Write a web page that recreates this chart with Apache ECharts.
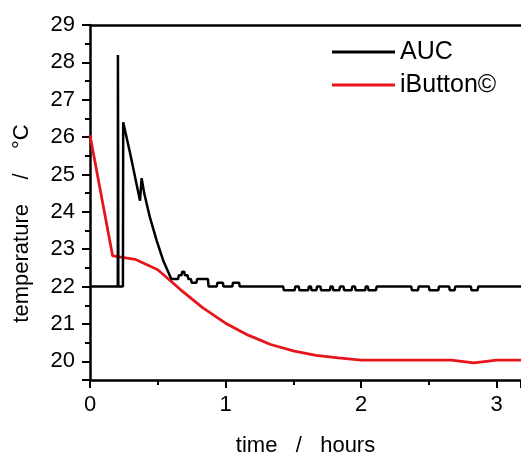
<!DOCTYPE html>
<html>
<head>
<meta charset="utf-8">
<script src="https://cdn.jsdelivr.net/npm/echarts@6/dist/echarts.min.js"></script>
<style>
html,body{margin:0;padding:0;background:#fff;}
#chart{width:521px;height:462px;}
</style>
</head>
<body>
<div id="chart"></div>
<script>
// AUC sensor (black)
const aucTime = [0, 0.205, 0.206, 0.208, 0.209, 0.243, 0.245, 0.253, 0.30, 0.34, 0.369, 0.381, 0.40, 0.442, 0.492, 0.54, 0.60,
  0.65, 0.655, 0.675, 0.68, 0.695, 0.70, 0.72, 0.725, 0.745, 0.75, 0.785, 0.79, 0.87, 0.875, 0.935, 0.94, 0.98, 0.985, 1.05, 1.055, 1.10, 1.105,
  1.426, 1.43, 1.51, 1.515, 1.54, 1.545, 1.61, 1.615, 1.63, 1.635, 1.67, 1.675, 1.70, 1.705, 1.77, 1.775, 1.79, 1.795, 1.84, 1.845, 1.87, 1.875, 1.93, 1.935, 1.955, 1.96, 2.03, 2.035, 2.05, 2.055, 2.11, 2.115,
  2.37, 2.375, 2.42, 2.425, 2.50, 2.505, 2.57, 2.575, 2.65, 2.655, 2.69, 2.695, 2.81, 2.815, 2.86, 2.865, 3.2];
const aucTemp = [22, 22, 28.2, 25.1, 22, 22, 26.4, 26.35, 25.5, 24.8, 24.3, 24.9, 24.5, 23.85, 23.23, 22.7, 22.2,
  22.2, 22.3, 22.3, 22.4, 22.4, 22.3, 22.3, 22.2, 22.2, 22.1, 22.1, 22.2, 22.2, 22.0, 22.0, 22.1, 22.1, 22.0, 22.0, 22.1, 22.1, 22.0,
  22.0, 21.9, 21.9, 22.0, 22.0, 21.9, 21.9, 22.0, 22.0, 21.9, 21.9, 22.0, 22.0, 21.9, 21.9, 22.0, 22.0, 21.9, 21.9, 22.0, 22.0, 21.9, 21.9, 22.0, 22.0, 21.9, 21.9, 22.0, 22.0, 21.9, 21.9, 22.0,
  22.0, 21.9, 21.9, 22.0, 22.0, 21.9, 21.9, 22.0, 22.0, 21.9, 21.9, 22.0, 22.0, 21.9, 21.9, 22.0, 22.0];
// iButton logger (red), 10-minute samples
const ibTime = [0, 0.167, 0.333, 0.5, 0.667, 0.833, 1.0, 1.167, 1.333, 1.5, 1.667, 1.833, 2.0, 2.167, 2.333, 2.5, 2.667, 2.833, 3.0, 3.167, 3.333];
const ibTemp = [26.05, 22.82, 22.73, 22.45, 21.92, 21.43, 21.02, 20.7, 20.45, 20.28, 20.16, 20.09, 20.03, 20.03, 20.03, 20.03, 20.03, 19.96, 20.03, 20.03, 20.03];

const seriesNames = ['AUC', 'iButton©'];
const xTickValues = [0, 1, 2, 3];
const yTickValues = [20, 21, 22, 23, 24, 25, 26, 27, 28, 29];

const FONT = 'Liberation Sans';
const chart = echarts.init(document.getElementById('chart'), null, {renderer: 'canvas'});
const zip = (a, b) => a.map((v, i) => [v, b[i]]);

chart.setOption({
  animation: false,
  backgroundColor: '#fff',
  grid: {left: 90, right: 0, top: 25, bottom: 77, containLabel: false},
  legend: {
    orient: 'vertical', left: 332, top: 37, itemGap: 3, padding: 0,
    itemWidth: 63, itemHeight: 3, icon: 'rect',
    textStyle: {fontFamily: FONT, fontSize: 25, color: '#000', lineHeight: 30},
    data: seriesNames
  },
  xAxis: [{
    type: 'value', min: 0, max: 3.18, interval: 1,
    name: 'time   /   hours', nameLocation: 'middle', nameGap: 55,
    nameTextStyle: {fontFamily: FONT, fontSize: 22, color: '#000'},
    axisLine: {onZero: false, lineStyle: {color: '#000', width: 2.5}},
    axisTick: {inside: false, length: 8, lineStyle: {color: '#000', width: 2}},
    minorTick: {show: true, splitNumber: 2, length: 5, lineStyle: {color: '#000', width: 2}},
    axisLabel: {fontFamily: FONT, fontSize: 22, color: '#000', margin: 14, showMaxLabel: false,
      formatter: v => xTickValues.includes(v) ? String(v) : ''},
    splitLine: {show: false}
  }, {
    type: 'value', position: 'top', min: 0, max: 3.18,
    axisLine: {onZero: false, lineStyle: {color: '#000', width: 2.5}},
    axisTick: {show: false}, axisLabel: {show: false}, splitLine: {show: false}
  }],
  yAxis: {
    type: 'value', min: 19.5, max: 29, splitNumber: 9,
    name: 'temperature    /    °C', nameLocation: 'middle', nameGap: 57, nameRotate: 90,
    nameTextStyle: {fontFamily: FONT, fontSize: 22, color: '#000', padding: [0, 42, 0, 0]},
    axisLine: {onZero: false, lineStyle: {color: '#000', width: 2.5}},
    axisTick: {inside: false, length: 8, lineStyle: {color: '#000', width: 2}},
    minorTick: {show: true, splitNumber: 2, length: 5, lineStyle: {color: '#000', width: 2}},
    axisLabel: {fontFamily: FONT, fontSize: 22, color: '#000', margin: 15, showMinLabel: false,
      formatter: v => yTickValues.includes(v) ? String(v) : ''},
    splitLine: {show: false}
  },
  series: [{
    name: seriesNames[0], type: 'line', showSymbol: false, symbol: 'none',
    data: zip(aucTime, aucTemp), clip: true,
    lineStyle: {color: '#000', width: 2.5}, itemStyle: {color: '#000'}, z: 3
  }, {
    name: seriesNames[1], type: 'line', showSymbol: false, symbol: 'none',
    data: zip(ibTime, ibTemp), clip: true,
    lineStyle: {color: '#e8141c', width: 2.8}, itemStyle: {color: '#e8141c'}, z: 2
  }]
});
</script>
</body>
</html>
